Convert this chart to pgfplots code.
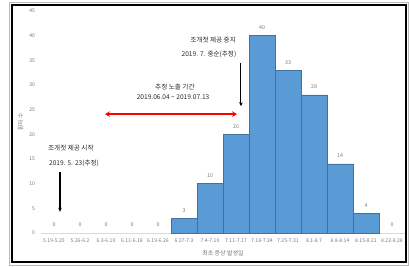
\documentclass[border=0pt]{standalone}
\usepackage{fontspec}
\setmainfont{Noto Sans CJK KR}
\usepackage{pgfplots}
\pgfplotsset{compat=1.18}
\usetikzlibrary{arrows.meta}
\definecolor{barblue}{RGB}{91,155,213}
\definecolor{baredge}{RGB}{65,113,156}
\definecolor{txtgray}{RGB}{120,120,120}
\definecolor{annot}{RGB}{40,40,40}
\definecolor{axgray}{RGB}{217,217,217}
\begin{document}
\begin{tikzpicture}[x=1pt,y=1pt]
\path[use as bounding box] (0,0) rectangle (409,266);
\draw[gray!55, line width=0.8pt] (9,1) rectangle (408,264);
\draw[black, line width=2pt] (12,4) rectangle (405.5,261);
\begin{axis}[
  at={(41pt,33pt)}, anchor=south west,
  scale only axis, width=364pt, height=222pt,
  xmin=-0.5, xmax=13.5, ymin=0, ymax=45,
  ytick={0,5,...,45},
  xtick={0,...,13},
  xticklabels={5.19-5.25,5.26-6.2,6.3-6.10,6.11-6.18,6.19-6.26,6.27-7.3,7.4-7.10,7.11-7.17,7.18-7.24,7.25-7.31,8.1-8.7,8.8-8.14,8.15-8.21,8.22-8.28},
  axis x line*=bottom, axis y line*=left,
  x axis line style={draw=axgray, -},
  y axis line style={draw=none},
  major tick length=0pt,
  tick label style={font=\fontsize{5.1}{6}\selectfont, text=txtgray},
  xticklabel style={yshift=-2pt},
  yticklabel style={xshift=-2.5pt},
  /pgf/number format/assume math mode=true,
  xlabel={최초 증상 발생일},
  ylabel={환자 수},
  xlabel style={font=\fontsize{6}{7}\selectfont, text=txtgray, yshift=-1pt},
  ylabel style={font=\fontsize{5.8}{7}\selectfont, text=txtgray, yshift=-1pt},
  clip=false,
  nodes near coords style={font=\fontsize{5.3}{6}\selectfont, text=txtgray, yshift=2.5pt},
]
\addplot[ybar, bar width=1, fill=barblue, draw=baredge, line width=0.6pt, nodes near coords]
  coordinates {(5,3) (6,10) (7,20) (8,40) (9,33) (10,28) (11,14) (12,4)};
\addplot[draw=none, mark=none, nodes near coords]
  coordinates {(0,0) (1,0) (2,0) (3,0) (4,0) (13,0)};

% annotations
\node[font=\fontsize{6.6}{7.5}\selectfont, text=annot] at (axis cs:0.65,17.2) {조개젓 제공 시작};
\node[font=\fontsize{6.6}{7.5}\selectfont, text=annot] at (axis cs:0.77,14.2) {2019. 5. 23(추정)};
\draw[-{Stealth[length=4pt,width=3.5pt]}, line width=1.1pt, black] (axis cs:0.23,12.4) -- (axis cs:0.23,4.3);

\node[font=\fontsize{6.6}{7.5}\selectfont, text=annot] at (axis cs:4.65,29.6) {추정 노출 기간};
\node[font=\fontsize{6.6}{7.5}\selectfont, text=annot] at (axis cs:4.58,27.5) {2019.06.04 \textasciitilde{} 2019.07.13};
\draw[{Stealth[length=5pt,width=5.5pt]}-{Stealth[length=5pt,width=5.5pt]}, line width=2.6pt, red] (axis cs:1.96,24.1) -- (axis cs:7.04,24.1);

\node[font=\fontsize{6.6}{7.5}\selectfont, text=annot] at (axis cs:6.12,39.1) {조개젓 제공 중지};
\node[font=\fontsize{6.6}{7.5}\selectfont, text=annot] at (axis cs:5.96,36.3) {2019. 7. 중순(추정)};
\draw[-{Stealth[length=4pt,width=3.5pt]}, line width=1.1pt, black] (axis cs:7.19,34.5) -- (axis cs:7.19,25.7);
\end{axis}
\end{tikzpicture}
\end{document}
